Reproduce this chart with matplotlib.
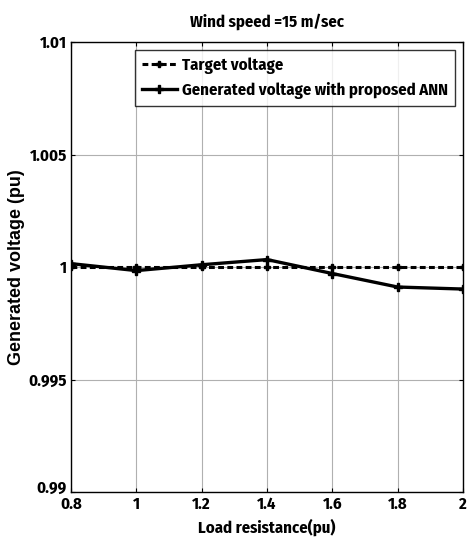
import matplotlib
matplotlib.use("Agg")
import matplotlib.pyplot as plt
import matplotlib.transforms as mtransforms
import numpy as np

# data
load_res = [0.8, 1.0, 1.2, 1.4, 1.6, 1.8, 2.0]
target_v = [1.0, 1.0, 1.0, 1.0, 1.0, 1.0, 1.0]
ann_v = [1.00015, 0.99984, 1.00010, 1.00033, 0.99971, 0.99911, 0.99902]

xticks = [0.8, 1, 1.2, 1.4, 1.6, 1.8, 2]
xtick_labels = ["0.8", "1", "1.2", "1.4", "1.6", "1.8", "2"]
yticks = [0.99, 0.995, 1.0, 1.005, 1.01]
ytick_labels = ["0.99", "0.995", "1", "1.005", "1.01"]

narrow = ["Fira Sans Condensed", "Liberation Sans", "DejaVu Sans"]
wide = ["Liberation Sans", "DejaVu Sans"]

fig = plt.figure(figsize=(4.68, 5.41), dpi=100)
ax = fig.add_axes([71 / 468, 1 - 492 / 541, (463 - 71) / 468, (492 - 42) / 541])

ax.plot(load_res, target_v, linestyle="--", color="black", linewidth=2.2,
        marker="P", markersize=4, dashes=(1.9, 1.1), label="Target voltage")
ax.plot(load_res, ann_v, linestyle="-", color="black", linewidth=2.4,
        marker="P", markersize=6, label="Generated voltage with proposed ANN")

ax.set_xlim(0.8, 2)
ax.set_ylim(0.99, 1.01)
ax.set_xticks(xticks)
ax.set_xticklabels(xtick_labels, family=narrow, fontweight="bold", fontsize=12)
ax.set_yticks(yticks)
ax.set_yticklabels(ytick_labels, family=narrow, fontweight="bold", fontsize=12)
ax.tick_params(which="both", direction="in", top=True, right=True, length=3, pad=3)
ax.grid(True, color="#b0b0b0", linewidth=0.8, linestyle="-")
for s in ax.spines.values():
    s.set_linewidth(1.0)

# bottom y label sits a little higher, as in the original
lab = ax.get_yticklabels()[0]
lab.set_transform(lab.get_transform() + mtransforms.ScaledTranslation(0, 5 / 100, fig.dpi_scale_trans))

ax.set_title("Wind speed =15 m/sec", family=narrow, fontweight="bold", fontsize=12, pad=11)
ax.set_xlabel("Load resistance(pu)", family=narrow, fontweight="bold", fontsize=12, labelpad=5)
ax.set_ylabel("Generated voltage (pu)", fontweight="bold", fontsize=13, family=wide)
ax.yaxis.set_label_coords(-0.118, 0.5)

leg = ax.legend(loc="upper right", frameon=True, fancybox=False, edgecolor="black",
                prop={"family": narrow, "weight": "bold", "size": 12},
                handlelength=2.1, borderpad=0.4, labelspacing=0.5, handletextpad=0.3,
                borderaxespad=0.5)
leg.get_frame().set_linewidth(1.0)

fig.savefig("out.png", dpi=100)
